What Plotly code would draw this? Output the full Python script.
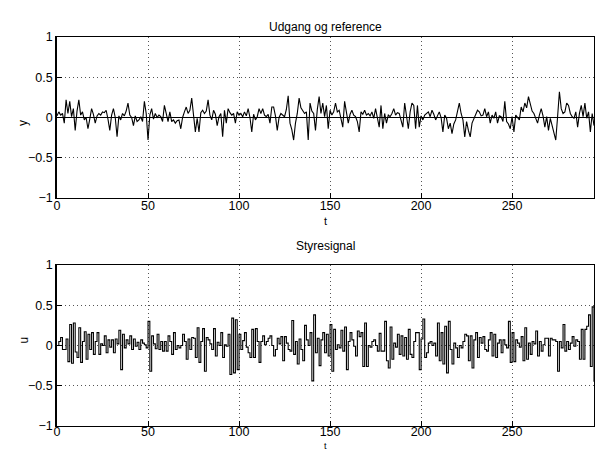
import plotly.graph_objects as go

# time axis
t = list(range(296))

# output y (Udgang)
y = [
 0.02, 0.07, 0.03, 0.05, -0.07, 0.22, 0.05, 0.2, 0.01, 0.11,
 -0.16, 0.08, 0.22, 0.03, 0.07, -0.03, 0.0, -0.14, -0.02, 0.11,
 0.04, -0.07, 0.02, 0.05, 0.03, 0.07, 0.06, 0.09, -0.02, -0.16,
 0.03, 0.11, 0.0, -0.24, 0.02, -0.03, 0.05, 0.02, 0.08, 0.18,
 0.03, 0.0, -0.1, 0.02, -0.05, -0.03, 0.01, -0.05, 0.2, 0.05,
 -0.28, 0.03, 0.11, -0.02, 0.05, 0.0, 0.03, 0.01, -0.05, 0.15,
 0.05, -0.05, 0.07, -0.05, -0.03, -0.07, -0.04, -0.03, -0.14, 0.0,
 0.07, 0.13, 0.05, 0.09, 0.24, 0.01, -0.18, -0.01, -0.18, 0.06,
 0.09, 0.05, 0.08, 0.22, 0.03, -0.03, 0.09, 0.04, -0.1, 0.01,
 0.05, -0.24, 0.09, -0.07, 0.11, 0.06, 0.03, 0.05, -0.07, 0.07,
 0.03, 0.05, 0.01, 0.07, 0.02, 0.11, 0.0, -0.18, 0.04, -0.03,
 0.01, 0.11, 0.05, 0.11, 0.03, 0.01, 0.04, -0.07, 0.13, 0.13,
 0.02, -0.16, 0.0, 0.05, 0.03, 0.01, 0.1, 0.27, -0.07, -0.15,
 -0.28, -0.07, 0.05, 0.24, 0.12, 0.09, 0.05, 0.07, -0.28, 0.18,
 0.08, 0.05, -0.16, 0.1, 0.26, 0.05, 0.18, 0.01, 0.15, -0.14,
 0.09, 0.03, 0.07, 0.18, 0.07, 0.09, -0.02, -0.12, 0.2, 0.04,
 -0.07, 0.04, 0.09, 0.03, 0.01, -0.05, -0.18, 0.07, 0.04, 0.09,
 0.03, 0.05, 0.02, 0.07, -0.01, 0.11, -0.03, -0.12, 0.15, -0.14,
 0.05, -0.07, 0.03, 0.01, 0.05, 0.11, 0.03, 0.06, 0.05, -0.04,
 -0.12, 0.18, 0.02, -0.14, 0.07, 0.18, 0.15, -0.14, 0.15, -0.12,
 0.02, -0.03, 0.03, 0.05, 0.07, 0.01, 0.09, 0.04, -0.03, 0.02,
 0.07, 0.0, -0.18, 0.03, -0.01, -0.14, -0.07, -0.2, -0.08, -0.03,
 0.06, 0.18, 0.05, -0.03, -0.24, -0.05, -0.16, -0.24, -0.07, -0.02,
 0.05, 0.09, 0.07, 0.02, 0.03, 0.11, 0.01, 0.07, -0.07, 0.03,
 -0.01, 0.07, -0.07, 0.02, 0.01, -0.05, 0.2, -0.05, -0.08, -0.14,
 0.01, -0.18, 0.03, 0.0, -0.03, 0.13, 0.07, 0.18, 0.12, 0.26,
 0.15, 0.08, 0.05, -0.02, -0.07, 0.03, 0.11, 0.02, -0.12, 0.01,
 -0.16, -0.01, -0.1, -0.18, -0.28, 0.01, 0.32, 0.11, 0.05, 0.07,
 0.18, 0.15, 0.05, 0.01, -0.01, 0.07, -0.12, 0.05, 0.15, 0.01,
 0.18, -0.01, 0.07, -0.18, 0.05, -0.1,
]

# reference signal
reference = [0.0] * len(t)

# control signal u (Styresignal)
u = [
 0.0, 0.05, 0.1, -0.05, -0.05, 0.08, -0.2, 0.26, -0.22, 0.28,
 -0.08, -0.15, 0.22, -0.21, 0.05, 0.17, -0.17, 0.14, -0.05, 0.16,
 -0.11, 0.05, 0.16, -0.11, 0.02, 0.0, 0.12, -0.09, 0.07, -0.02,
 0.07, -0.09, 0.08, 0.02, 0.19, -0.3, 0.14, -0.03, 0.07, 0.02,
 0.12, -0.05, 0.08, -0.01, 0.04, -0.05, 0.07, 0.03, 0.01, -0.03,
 0.3, -0.32, 0.12, 0.02, -0.04, 0.14, -0.05, 0.05, -0.07, 0.05,
 -0.07, 0.12, 0.05, -0.11, 0.16, -0.05, 0.0, -0.03, 0.0, 0.14,
 0.05, -0.17, 0.08, -0.05, 0.1, 0.09, -0.15, 0.22, -0.21, 0.05,
 0.21, -0.32, 0.1, 0.07, 0.02, -0.05, 0.21, -0.13, 0.04, 0.0,
 0.16, -0.15, 0.01, -0.01, 0.14, -0.36, 0.34, -0.34, 0.32, -0.3,
 0.14, -0.05, 0.06, 0.16, -0.02, -0.09, -0.15, 0.2, -0.15, 0.21,
 0.05, -0.21, 0.05, 0.12, 0.01, 0.05, 0.09, 0.12, 0.0, -0.13,
 -0.05, 0.09, 0.02, 0.11, -0.19, 0.11, 0.03, -0.05, -0.07, 0.31,
 -0.11, 0.05, -0.23, 0.08, -0.05, -0.19, 0.25, 0.07, 0.0, 0.16,
 -0.44, 0.38, -0.09, 0.09, -0.25, 0.07, 0.16, -0.09, 0.14, -0.13,
 0.26, -0.32, 0.2, -0.05, 0.01, -0.03, 0.19, -0.07, 0.23, -0.3,
 0.05, 0.16, 0.07, -0.01, -0.13, 0.18, 0.11, 0.16, -0.26, 0.28,
 -0.26, 0.0, -0.02, 0.05, 0.07, 0.0, -0.07, 0.15, -0.07, -0.07,
 0.3, -0.19, -0.28, 0.23, -0.17, 0.03, -0.02, 0.14, -0.11, 0.12,
 -0.13, 0.1, -0.17, 0.2, -0.11, -0.15, 0.05, 0.16, 0.16, -0.3,
 0.08, 0.33, -0.15, -0.09, 0.03, 0.05, 0.0, 0.03, -0.13, 0.28,
 -0.19, 0.16, -0.23, 0.24, -0.34, 0.3, -0.05, -0.23, 0.03, -0.03,
 -0.15, 0.0, -0.03, 0.05, 0.14, 0.12, -0.19, 0.12, -0.28, 0.07,
 0.16, -0.15, 0.1, 0.03, 0.11, -0.05, -0.07, 0.07, 0.16, -0.13,
 0.14, -0.15, 0.03, 0.07, -0.09, 0.07, 0.01, -0.03, 0.3, -0.21,
 0.16, -0.2, 0.07, 0.03, -0.02, 0.11, -0.19, 0.22, -0.17, 0.03,
 -0.11, 0.05, 0.02, 0.18, -0.13, 0.05, -0.07, 0.01, 0.09, 0.09,
 -0.13, 0.09, 0.07, 0.07, 0.05, -0.32, 0.05, -0.03, 0.26, -0.07,
 0.05, -0.05, 0.03, 0.11, -0.01, 0.07, 0.05, -0.17, 0.2, -0.17,
 0.2, 0.24, 0.38, -0.26, 0.48, -0.45,
]

x_ticks = [0, 50, 100, 150, 200, 250]
y_ticks = [-1, -0.5, 0, 0.5, 1]
y_tick_text = ["\u22121", "\u22120.5", "0", "0.5", "1"]

FONT = "Liberation Sans, Arial, Helvetica, sans-serif"
W, H = 595, 455

fig = go.Figure()
fig.add_trace(go.Scatter(x=t, y=reference, mode="lines",
                         line=dict(color="black", width=1), xaxis="x", yaxis="y",
                         hoverinfo="skip"))
fig.add_trace(go.Scatter(x=t, y=y, mode="lines",
                         line=dict(color="black", width=1.1), xaxis="x", yaxis="y"))
fig.add_trace(go.Scatter(x=t, y=u, mode="lines",
                         line=dict(color="black", width=1.1, shape="hv"),
                         xaxis="x2", yaxis="y2"))

x0, x1 = 57 / W, 594 / W
top_dom = [1 - 198 / H, 1 - 37 / H]
bot_dom = [1 - 426 / H, 1 - 265 / H]

xcommon = dict(range=[0, 295], tickvals=x_ticks, ticks="inside", ticklen=5,
               showline=True, mirror=True, linecolor="black", linewidth=1,
               showgrid=True, gridcolor="#555", griddash="1px,3px", gridwidth=1,
               zeroline=False, tickfont=dict(family=FONT, size=12.5, color="black"),
               automargin=False, tickcolor="black")
ycommon = dict(range=[-1, 1], tickvals=y_ticks, ticktext=y_tick_text,
               ticks="inside", ticklen=5, showline=True, mirror=True,
               linecolor="black", linewidth=1.5, showgrid=True, gridcolor="#555",
               griddash="1px,3px", gridwidth=1, zeroline=False,
               tickfont=dict(family=FONT, size=12.5, color="black"),
               automargin=False, tickcolor="black")

fig.update_layout(
    width=W, height=H,
    margin=dict(l=0, r=0, t=0, b=0),
    paper_bgcolor="white", plot_bgcolor="white",
    showlegend=False,
    xaxis=dict(domain=[x0, x1], anchor="y", ticklabelstandoff=-4, **xcommon),
    yaxis=dict(domain=top_dom, anchor="x", **ycommon),
    xaxis2=dict(domain=[x0, x1], anchor="y2", ticklabelstandoff=-6, **xcommon),
    yaxis2=dict(domain=bot_dom, anchor="x2", **ycommon),
    annotations=[
        dict(text="Udgang og reference", x=(x0 + x1) / 2, y=1 - 18 / H,
             xref="paper", yref="paper", showarrow=False,
             font=dict(family=FONT, size=12, color="black")),
        dict(text="Styresignal", x=(x0 + x1) / 2, y=1 - 246 / H,
             xref="paper", yref="paper", showarrow=False,
             font=dict(family=FONT, size=12, color="black")),
        dict(text="t", x=(x0 + x1) / 2, y=1 - 221 / H,
             xref="paper", yref="paper", showarrow=False,
             font=dict(family=FONT, size=11, color="black")),
        dict(text="t", x=(x0 + x1) / 2, y=1 - 453 / H,
             xref="paper", yref="paper", showarrow=False,
             font=dict(family=FONT, size=9, color="black")),
        dict(text="y", x=14 / W, y=1 - 118 / H, textangle=-90,
             xref="paper", yref="paper", showarrow=False,
             font=dict(family=FONT, size=12, color="black")),
        dict(text="u", x=14 / W, y=1 - 346 / H, textangle=-90,
             xref="paper", yref="paper", showarrow=False,
             font=dict(family=FONT, size=12, color="black")),
    ],
)

fig.write_html("out.html")
